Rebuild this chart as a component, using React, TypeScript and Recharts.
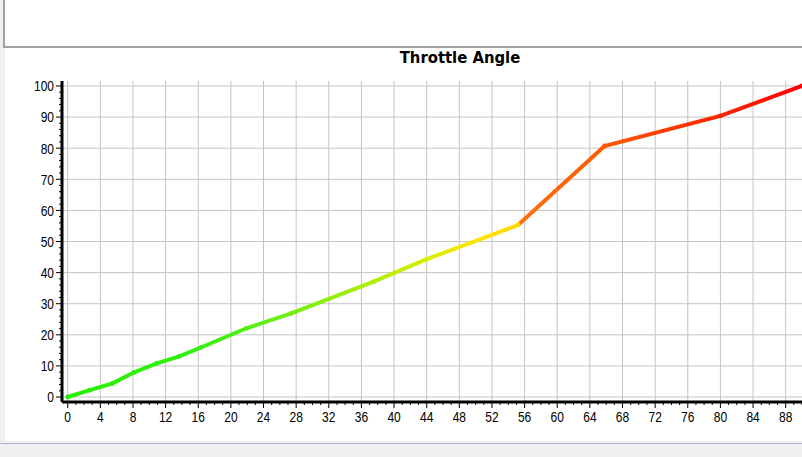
import { Line, LineChart, ReferenceLine, XAxis, YAxis } from 'recharts'

// throttle angle curve
const angleX = [0, 2.7, 5.5, 8.1, 10.9, 13.6, 16.4, 21.9, 27.4, 37.5, 44, 55.2, 65.8, 80, 90]
const angleY = [0, 2.2, 4.4, 7.9, 10.8, 13, 16, 22.1, 26.9, 37.1, 44.3, 55.3, 80.7, 90.4, 100]

const xMajorTicks = [0, 4, 8, 12, 16, 20, 24, 28, 32, 36, 40, 44, 48, 52, 56, 60, 64, 68, 72, 76, 80, 84, 88]
const xAllTicks = Array.from({ length: 91 }, (_, i) => i)
const yMajorTicks = [0, 10, 20, 30, 40, 50, 60, 70, 80, 90, 100]
const yAllTicks = Array.from({ length: 51 }, (_, i) => i * 2)

// colour along the curve, keyed by x value
const colorStops: Array<[number, string]> = [
  [0, '#26f000'],
  [16, '#34f010'],
  [22, '#52f010'],
  [27.5, '#74ee10'],
  [37.5, '#b0ee00'],
  [44, '#d8ee00'],
  [50, '#ffe400'],
  [55.2, '#ffd800'],
  [55.4, '#ff7010'],
  [66, '#ff5800'],
  [80, '#ff2400'],
  [90, '#ff0000'],
]

const data = angleX.map((x, i) => ({ x, y: angleY[i] }))

function hexToRgb(h: string) {
  const n = parseInt(h.slice(1), 16)
  return [(n >> 16) & 255, (n >> 8) & 255, n & 255]
}

function colorAt(x: number) {
  for (let i = 0; i < colorStops.length - 1; i++) {
    const [a, ca] = colorStops[i]
    const [b, cb] = colorStops[i + 1]
    if (x >= a && x <= b) {
      const t = b === a ? 0 : (x - a) / (b - a)
      const ra = hexToRgb(ca)
      const rb = hexToRgb(cb)
      const c = ra.map((v, k) => Math.round(v + (rb[k] - v) * t))
      return `rgb(${c[0]},${c[1]},${c[2]})`
    }
  }
  return colorStops[colorStops.length - 1][1]
}

const tickFont = '"Liberation Sans", Arial, sans-serif'

// labels in the original are a narrow face: squeeze Liberation Sans a bit
function XTick({ x, y, payload }: any) {
  const v = payload.value
  const major = v % 4 === 0
  return (
    <g>
      <line x1={x} x2={x} y1={y} y2={y + (major ? 6 : 3)} stroke="#000" />
      {major && (
        <g transform={`translate(${x},${y}) scale(0.8,1)`}>
          <text x={0} y={9} dy="0.71em" textAnchor="middle" fontSize={15} fontFamily={tickFont} fill="#000">
            {v}
          </text>
        </g>
      )}
    </g>
  )
}

function YTick({ x, y, payload }: any) {
  const v = payload.value
  const major = v % 10 === 0
  return (
    <g>
      <line x1={x} x2={x - (major ? 6 : 3)} y1={y} y2={y} stroke="#000" />
      {major && (
        <g transform={`translate(${x - 8},${y}) scale(0.8,1)`}>
          <text x={0} y={0} dy="0.355em" textAnchor="end" fontSize={15} fontFamily={tickFont} fill="#000">
            {v}
          </text>
        </g>
      )}
    </g>
  )
}

function Marker({ cx, cy, payload }: any) {
  return <circle cx={cx} cy={cy} r={2.4} fill={colorAt(payload.x)} />
}

export default function App() {
  return (
    <div style={{ position: 'absolute', left: 0, top: 0, width: 802, height: 457, background: '#f0f0f0', overflow: 'hidden', fontFamily: tickFont }}>
      <div style={{ position: 'absolute', left: 3, top: -2, width: 802, height: 48, background: '#fff', borderLeft: '2px solid #a0a0a0', borderBottom: '2px solid #a0a0a0' }} />
      <div style={{ position: 'absolute', left: 5, top: 48, width: 797, height: 393, background: '#fff' }} />
      <div style={{ position: 'absolute', left: 0, top: 443, width: 802, height: 1, background: '#a9b6c9' }} />
      <div style={{ position: 'absolute', left: 360, top: 48, width: 200, textAlign: 'center', fontFamily: '"DejaVu Sans Condensed", "DejaVu Sans", sans-serif', fontWeight: 'bold', fontSize: 16.5, lineHeight: '20px', color: '#000' }}>
        Throttle Angle
      </div>
      <div style={{ position: 'absolute', left: 5, top: 48 }}>
        <LineChart width={797} height={393} data={data} margin={{ top: 33, right: 0, left: 0, bottom: 0 }}>
          <defs>
            <linearGradient id="throttleStroke" x1="0" y1="0" x2="1" y2="0">
              {colorStops.map(([x, c], i) => (
                <stop key={i} offset={x / 90} stopColor={c} />
              ))}
            </linearGradient>
          </defs>
          <XAxis
            dataKey="x"
            type="number"
            domain={[-0.7, 90]}
            ticks={xAllTicks}
            interval={0}
            height={39}
            tickSize={0}
            tickMargin={0}
            tickLine={false}
            tick={<XTick />}
            axisLine={{ stroke: '#000', strokeWidth: 3 }}
            allowDataOverflow
          />
          <YAxis
            type="number"
            domain={[-1.6, 101.6]}
            ticks={yAllTicks}
            interval={0}
            width={57}
            tickSize={0}
            tickMargin={0}
            tickLine={false}
            tick={<YTick />}
            axisLine={{ stroke: '#000', strokeWidth: 3 }}
            allowDataOverflow
          />
          {xMajorTicks.map((v) => (
            <ReferenceLine key={'gx' + v} x={v} stroke="#c4c4c4" strokeWidth={1} />
          ))}
          {yMajorTicks.map((v) => (
            <ReferenceLine key={'gy' + v} y={v} stroke="#c4c4c4" strokeWidth={1} />
          ))}
          <Line
            type="linear"
            dataKey="y"
            stroke="url(#throttleStroke)"
            strokeWidth={4}
            dot={<Marker />}
            activeDot={false}
            isAnimationActive={false}
          />
        </LineChart>
      </div>
    </div>
  )
}
